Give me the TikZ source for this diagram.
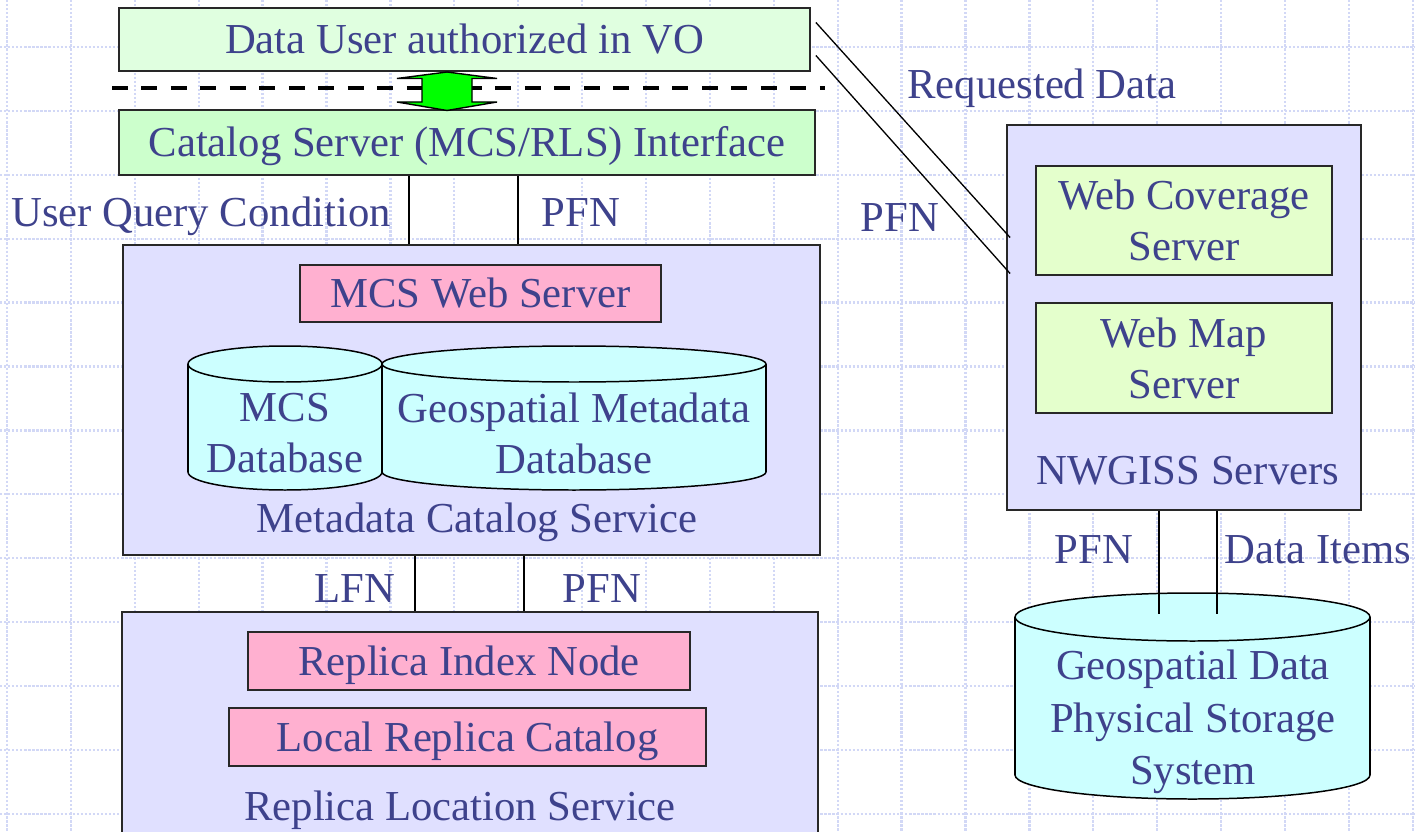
\documentclass[tikz,border=0pt]{standalone}
\usepackage{fontspec}
\setmainfont{Liberation Serif}
\usepackage{xcolor}
\definecolor{txtblue}{RGB}{62,66,140}
\definecolor{usergreen}{RGB}{224,255,224}
\definecolor{catgreen}{RGB}{204,255,204}
\definecolor{lavender}{RGB}{224,224,255}
\definecolor{pinkbox}{RGB}{255,176,208}
\definecolor{limebox}{RGB}{228,255,204}
\definecolor{dbcyan}{RGB}{204,255,255}
\definecolor{gridblue}{RGB}{210,216,246}
\definecolor{edgegray}{RGB}{40,40,40}
\definecolor{brightgreen}{RGB}{0,255,0}
\usetikzlibrary{calc}

\tikzset{
  box/.style={draw=edgegray, line width=1.1pt, inner sep=0pt, text=txtblue,
    font=\fontsize{24.3}{29}\selectfont, align=center},
  oneline/.style={text height=16pt, text depth=0pt},
  lbl/.style={text=txtblue, font=\fontsize{24.3}{29}\selectfont, inner sep=0pt},
  link/.style={draw=black, line width=0.75pt},
  gridline/.style={gridblue, line width=1.3pt, densely dotted},
  sepline/.style={black, line width=2.3pt, dash pattern=on 0.32cm off 0.27cm},
}

% database drum: centre x, x radius, top y, bottom y, y radius
\newcommand{\dbdrum}[5]{%
  \filldraw[fill=dbcyan, draw=black, line width=0.85pt] (#1,#4) ellipse [x radius=#2, y radius=#5];
  \fill[dbcyan] (#1-#2,#3) rectangle (#1+#2,#4);
  \draw[line width=0.85pt] (#1-#2,#3) -- (#1-#2,#4) (#1+#2,#3) -- (#1+#2,#4);
  \filldraw[fill=dbcyan, draw=black, line width=0.85pt] (#1,#3) ellipse [x radius=#2, y radius=#5];
}

\begin{document}
\begin{tikzpicture}[x=0.02cm, y=-0.02cm]
  \useasboundingbox (0,0) rectangle (1415,831);
  \fill[white] (0,0) rectangle (1415,831);

  % background grid
  \foreach \k in {0,...,22} {
    \draw[gridline] (7+63.9*\k,0) -- (7+63.9*\k,831);
  }
  \foreach \k in {0,...,12} {
    \draw[gridline] (0,47+63.9*\k) -- (1415,47+63.9*\k);
  }

  % user side
  \node[box, oneline, fill=usergreen, minimum width=13.82cm, minimum height=1.26cm] (user) at (464.5,39.5) {Data User authorized in VO};
  \draw[sepline] (112,88) -- (825,88);
  \node[box, oneline, fill=catgreen, minimum width=13.92cm, minimum height=1.30cm] (catalog) at (467,142.5) {Catalog Server (MCS/RLS) Interface};

  % VO boundary crossing
  \coordinate (arr) at (447,91);
  \draw[fill=brightgreen, draw=black, line width=0.8pt, shift={(arr)}]
    (0,-19) -- (50,-12.5) -- (25,-12.5) -- (25,11) -- (50,11) -- (0,19.5)
    -- (-50,11) -- (-25,11) -- (-25,-12.5) -- (-50,-12.5) -- cycle;

  % metadata catalog service
  \node[box, fill=lavender, minimum width=13.94cm, minimum height=6.2cm] (mcsbox) at (471.5,400) {};
  \node[box, oneline, fill=pinkbox, minimum width=7.22cm, minimum height=1.14cm] (webserver) at (480.5,293.5) {MCS Web Server};
  \dbdrum{285}{97}{364}{472}{18}
  \dbdrum{574}{192}{364}{472}{18}
  \node[lbl, align=center] (mcsdb) at (285,433) {MCS\\Database};
  \node[lbl, align=center] (geodb) at (574,433) {Geospatial Metadata\\Database};
  \node[lbl, anchor=base] (mcslabel) at (477,532) {Metadata Catalog Service};

  % replica location service
  \node[box, fill=lavender, minimum width=13.92cm, minimum height=4.8cm] (rlsbox) at (470,732) {};
  \node[box, oneline, fill=pinkbox, minimum width=8.84cm, minimum height=1.16cm] (rin) at (469,661) {Replica Index Node};
  \node[box, oneline, fill=pinkbox, minimum width=9.54cm, minimum height=1.16cm] (lrc) at (467.5,737) {Local Replica Catalog};
  \node[lbl, anchor=base] (rlslabel) at (460,820) {Replica Location Service};

  % NWGISS
  \node[box, fill=lavender, minimum width=7.08cm, minimum height=7.70cm] (nwgiss) at (1184,317.5) {};
  \node[box, fill=limebox, minimum width=5.92cm, minimum height=2.18cm] (wcs) at (1184,220.5) {Web Coverage\\Server};
  \node[box, fill=limebox, minimum width=5.92cm, minimum height=2.20cm] (wms) at (1184,358) {Web Map\\Server};
  \node[lbl, anchor=base] (nwlabel) at (1188,484) {NWGISS Servers};

  % storage
  \dbdrum{1192.5}{177.5}{617}{775}{24}
  \coordinate (stortop) at (1192.5,614);
  \node[lbl, align=center, font=\fontsize{24.3}{30}\selectfont] (storage) at (1193,722) {Geospatial Data\\Physical Storage\\System};

  % links
  \draw[link] (409,0 |- catalog.south) -- (409,0 |- mcsbox.north);
  \draw[link] (518,0 |- catalog.south) -- (518,0 |- mcsbox.north);
  \draw[link] (415,0 |- mcsbox.south) -- (415,0 |- rlsbox.north);
  \draw[link] (524,0 |- mcsbox.south) -- (524,0 |- rlsbox.north);
  \draw[link] ([shift={(5,-17)}]user.east) -- ([shift={(4,-80)}]nwgiss.west);
  \draw[link] ([shift={(5,16)}]user.east) -- ([shift={(4,-44)}]nwgiss.west);
  \draw[link] (1159,0 |- nwgiss.south) -- (1159,0 |- stortop);
  \draw[link] (1217,0 |- nwgiss.south) -- (1217,0 |- stortop);

  % link labels
  \node[lbl, anchor=base] (uqc) at (201,226) {User Query Condition};
  \node[lbl, anchor=base] (pfnmcs) at (581,226) {PFN};
  \node[lbl, anchor=base] (reqdata) at (1042,99) {Requested Data};
  \node[lbl, anchor=base] (pfnvo) at (900,231) {PFN};
  \node[lbl, anchor=base] (lfn) at (355,602) {LFN};
  \node[lbl, anchor=base] (pfnrls) at (602,602) {PFN};
  \node[lbl, anchor=base] (pfnstore) at (1094,563) {PFN};
  \node[lbl, anchor=base] (items) at (1318,563) {Data Items};
\end{tikzpicture}
\end{document}
